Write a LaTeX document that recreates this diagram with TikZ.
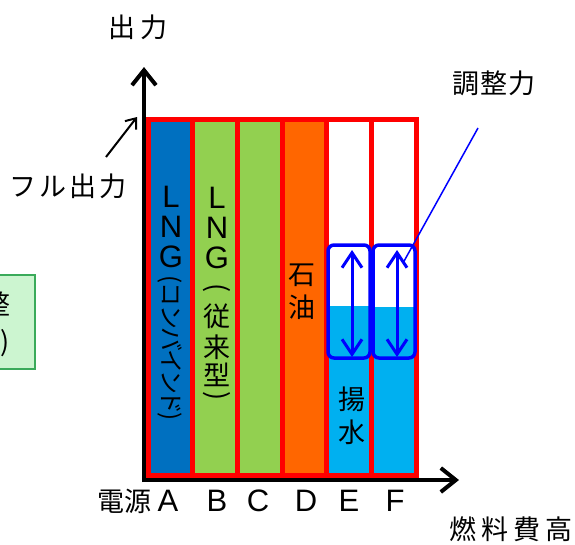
\documentclass[tikz,border=0pt]{standalone}
\usepackage{fontspec}
\setmainfont{Noto Sans CJK JP}
\newfontfamily\latinf{Liberation Sans}
\usetikzlibrary{arrows.meta}
\definecolor{cA}{HTML}{0070C0}
\definecolor{cG}{HTML}{92D050}
\definecolor{cO}{HTML}{FF6600}
\definecolor{cC}{HTML}{00B0F0}
\definecolor{boxfill}{HTML}{CCF5D0}
\definecolor{boxline}{HTML}{3AAA5A}
\tikzset{
  lbl/.style={inner sep=0pt, font=\fontsize{27}{30}\selectfont},
  lat/.style={inner sep=0pt, font=\latinf\fontsize{31}{34}\selectfont},
  col/.style={draw=red, line width=5pt},
  axis/.style={line width=4pt, -{Straight Barb[length=15pt,width=24pt,line width=4pt]}},
  adj/.style={draw=blue, line width=3.5pt, rounded corners=6pt, inner sep=0pt, minimum width=42pt, minimum height=113pt},
  dbl/.style={blue, line width=3pt, {Straight Barb[length=15pt,width=20pt]}-{Straight Barb[length=15pt,width=20pt]}},
}
\begin{document}
\begin{tikzpicture}[x=1pt,y=-1pt]
\useasboundingbox (0,0) rectangle (575,544);
\clip (0,0) rectangle (575,544);
% left box (cut off)
\node[draw=boxline, fill=boxfill, line width=2.5pt, minimum width=120pt, minimum height=94pt, inner sep=0pt] (lbox) at (-25,322) {};
\node[lbl, anchor=east] (lboxa) at (11,304) {需給調整};
\node[lbl, anchor=east] (lboxb) at (10,343) {(LFC)};
% columns: fills
\fill[cA] (148,119.5) rectangle (192.7,475);
\fill[cG] (192.7,119.5) rectangle (237.4,475);
\fill[cG] (237.4,119.5) rectangle (282.1,475);
\fill[cO] (282.1,119.5) rectangle (326.8,475);
\fill[white] (326.8,119.5) rectangle (416.2,475);
\fill[cC] (326.8,306) rectangle (371.5,475);
\fill[cC] (371.5,307) rectangle (416.2,475);
% columns: borders
\foreach \a/\b in {148/192.7,192.7/237.4,237.4/282.1,282.1/326.8,326.8/371.5,371.5/416.2}
  \draw[col] (\a,119.5) rectangle (\b,475);
% axes
\coordinate (origin) at (144,480);
\coordinate (ytip) at (144,67);
\coordinate (xtip) at (459,480);
\draw[axis] (144,482) -- (ytip);
\draw[axis] (142,480) -- (xtip);
% axis labels
\node[lbl] (ylab) at (138,27) {出\kern5pt 力};
\node[lbl] (xlab) at (511,529) {\addfontfeatures{LetterSpace=18}燃料費高};
\node[lbl] (full) at (68,186) {\addfontfeatures{LetterSpace=10}フル出力};
\coordinate (fullend) at (137,117);
\draw[line width=2pt, -{Straight Barb[length=9pt,width=14pt]}] (106,157) -- (fullend);
% bottom labels
\node[lbl] (dg) at (124,501) {電源};
\node[lat] (lA) at (168,501) {A};
\node[lat] (lB) at (217,501) {B};
\node[lat] (lC) at (258,501) {C};
\node[lat] (lD) at (306,501) {D};
\node[lat] (lE) at (349,501) {E};
\node[lat] (lF) at (395,501) {F};
% column A text
\node[lat] (aL) at (171,197) {L};
\node[lat] (aN) at (171,227) {N};
\node[lat] (aG) at (171,257) {G};
\node[lbl, rotate=-90, font=\fontsize{24}{26}\selectfont\addfontfeatures{RawFeature=+palt}] (aK) at (170,348) {(コンバインド)};
% column B text
\node[lat] (bL) at (217,198) {L};
\node[lat] (bN) at (217,228) {N};
\node[lat] (bG) at (217,258) {G};
\node[lbl, rotate=-90] (bp1) at (217,288) {(};
\node[lbl] (b1) at (217,316) {従};
\node[lbl] (b2) at (217,347) {来};
\node[lbl] (b3) at (217,375) {型};
\node[lbl, rotate=-90] (bp2) at (217,396) {)};
% column D text
\node[lbl] (d1) at (302,275) {石};
\node[lbl] (d2) at (302,307) {油};
% column E text
\node[lbl] (e1) at (352,399) {揚};
\node[lbl] (e2) at (352,432) {水};
% adjustment boxes
\node[adj] (boxE) at (349,301.5) {};
\node[adj] (boxF) at (394,301.5) {};
\draw[dbl] (352,250) -- (352,357);
\draw[dbl] (397,250) -- (397,357);
% label
\node[lbl] (adjlab) at (494,83) {\addfontfeatures{LetterSpace=4}調整力};
\coordinate (adjA) at (478,128);
\coordinate (adjB) at (403,263);
\draw[blue, line width=1.5pt] (adjA) -- (adjB);
\end{tikzpicture}
\end{document}
